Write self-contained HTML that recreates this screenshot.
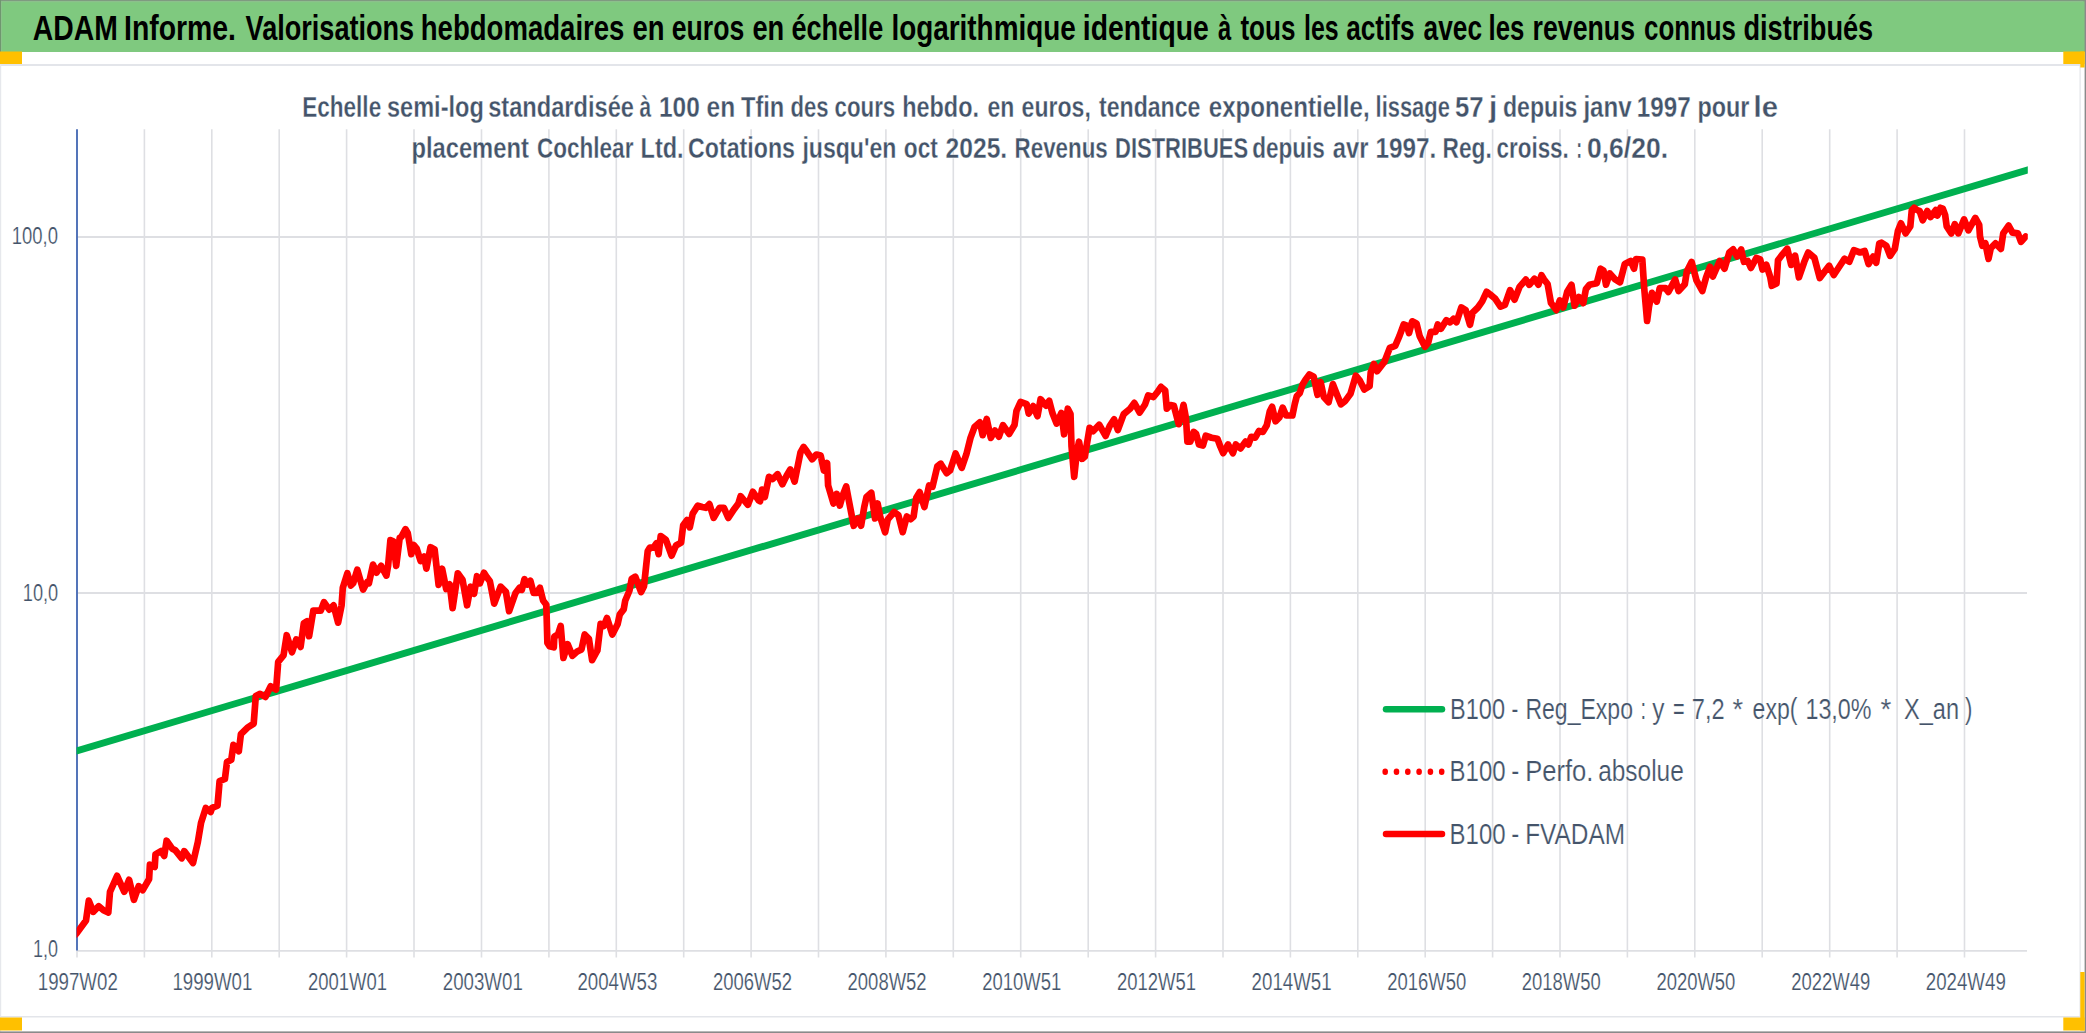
<!DOCTYPE html>
<html><head><meta charset="utf-8"><title>ADAM chart</title>
<style>html,body{margin:0;padding:0;background:#fff;width:2086px;height:1033px;overflow:hidden}</style>
</head><body>
<svg width="2086" height="1033" viewBox="0 0 2086 1033" style="display:block">
<rect x="0" y="0" width="2086" height="1033" fill="#ffffff"/>
<rect x="0" y="0" width="2086" height="52" fill="#7fc97f"/>
<rect x="0" y="0" width="2086" height="1.2" fill="#7f9a80"/>
<rect x="0" y="0" width="1.1" height="52" fill="#6f956f"/>
<rect x="1.1" y="1.2" width="1" height="50.5" fill="#8dc38d"/>
<rect x="1.2" y="1.2" width="2082" height="1" fill="#8fc08f"/>
<rect x="0" y="64" width="2080" height="2" fill="#e3e5ea"/>
<rect x="0" y="1016" width="2080" height="1.5" fill="#e3e5ea"/>
<rect x="2079.5" y="64" width="1.2" height="953" fill="#e3e5ea"/>
<rect x="0" y="52" width="1.2" height="980" fill="#e6e8ec"/>
<rect x="2084.6" y="0" width="1.4" height="1033" fill="#8a8a8a"/>
<rect x="0" y="1031.4" width="2086" height="1.6" fill="#8a8a8a"/>
<rect x="0" y="51.5" width="22" height="12.5" fill="#ffc000"/>
<rect x="2063.3" y="51.5" width="21.3" height="12.5" fill="#ffc000"/>
<rect x="2080.3" y="51.5" width="4.3" height="16" fill="#ffc000"/>
<rect x="0" y="1017.5" width="22" height="13" fill="#ffc000"/>
<rect x="2063.3" y="1017.5" width="21.3" height="13" fill="#ffc000"/>
<rect x="2080.3" y="972" width="4.3" height="58.5" fill="#ffc000"/>
<text x="32.8" y="40" font-family='"Liberation Sans", sans-serif' font-weight="bold" font-size="35" fill="#000" textLength="85.0" lengthAdjust="spacingAndGlyphs">ADAM</text>
<text x="124.0" y="40" font-family='"Liberation Sans", sans-serif' font-weight="bold" font-size="35" fill="#000" textLength="112.0" lengthAdjust="spacingAndGlyphs">Informe.</text>
<text x="245.6" y="40" font-family='"Liberation Sans", sans-serif' font-weight="bold" font-size="35" fill="#000" textLength="168.6" lengthAdjust="spacingAndGlyphs">Valorisations</text>
<text x="420.8" y="40" font-family='"Liberation Sans", sans-serif' font-weight="bold" font-size="35" fill="#000" textLength="203.6" lengthAdjust="spacingAndGlyphs">hebdomadaires</text>
<text x="632.6" y="40" font-family='"Liberation Sans", sans-serif' font-weight="bold" font-size="35" fill="#000" textLength="32.0" lengthAdjust="spacingAndGlyphs">en</text>
<text x="671.8" y="40" font-family='"Liberation Sans", sans-serif' font-weight="bold" font-size="35" fill="#000" textLength="72.4" lengthAdjust="spacingAndGlyphs">euros</text>
<text x="752.4" y="40" font-family='"Liberation Sans", sans-serif' font-weight="bold" font-size="35" fill="#000" textLength="31.8" lengthAdjust="spacingAndGlyphs">en</text>
<text x="791.4" y="40" font-family='"Liberation Sans", sans-serif' font-weight="bold" font-size="35" fill="#000" textLength="91.8" lengthAdjust="spacingAndGlyphs">échelle</text>
<text x="891.4" y="40" font-family='"Liberation Sans", sans-serif' font-weight="bold" font-size="35" fill="#000" textLength="184.4" lengthAdjust="spacingAndGlyphs">logarithmique</text>
<text x="1082.8" y="40" font-family='"Liberation Sans", sans-serif' font-weight="bold" font-size="35" fill="#000" textLength="126.0" lengthAdjust="spacingAndGlyphs">identique</text>
<text x="1218.0" y="40" font-family='"Liberation Sans", sans-serif' font-weight="bold" font-size="35" fill="#000" textLength="13.2" lengthAdjust="spacingAndGlyphs">à</text>
<text x="1240.4" y="40" font-family='"Liberation Sans", sans-serif' font-weight="bold" font-size="35" fill="#000" textLength="55.0" lengthAdjust="spacingAndGlyphs">tous</text>
<text x="1304.0" y="40" font-family='"Liberation Sans", sans-serif' font-weight="bold" font-size="35" fill="#000" textLength="34.6" lengthAdjust="spacingAndGlyphs">les</text>
<text x="1346.2" y="40" font-family='"Liberation Sans", sans-serif' font-weight="bold" font-size="35" fill="#000" textLength="68.4" lengthAdjust="spacingAndGlyphs">actifs</text>
<text x="1423.6" y="40" font-family='"Liberation Sans", sans-serif' font-weight="bold" font-size="35" fill="#000" textLength="58.4" lengthAdjust="spacingAndGlyphs">avec</text>
<text x="1488.6" y="40" font-family='"Liberation Sans", sans-serif' font-weight="bold" font-size="35" fill="#000" textLength="35.8" lengthAdjust="spacingAndGlyphs">les</text>
<text x="1532.6" y="40" font-family='"Liberation Sans", sans-serif' font-weight="bold" font-size="35" fill="#000" textLength="102.4" lengthAdjust="spacingAndGlyphs">revenus</text>
<text x="1644.0" y="40" font-family='"Liberation Sans", sans-serif' font-weight="bold" font-size="35" fill="#000" textLength="92.0" lengthAdjust="spacingAndGlyphs">connus</text>
<text x="1743.4" y="40" font-family='"Liberation Sans", sans-serif' font-weight="bold" font-size="35" fill="#000" textLength="129.8" lengthAdjust="spacingAndGlyphs">distribués</text>
<line x1="144.4" y1="129.3" x2="144.4" y2="957.5" stroke="#dedfe3" stroke-width="1.6"/>
<line x1="211.8" y1="129.3" x2="211.8" y2="957.5" stroke="#dedfe3" stroke-width="1.6"/>
<line x1="279.2" y1="129.3" x2="279.2" y2="957.5" stroke="#dedfe3" stroke-width="1.6"/>
<line x1="346.6" y1="129.3" x2="346.6" y2="957.5" stroke="#dedfe3" stroke-width="1.6"/>
<line x1="414.0" y1="129.3" x2="414.0" y2="957.5" stroke="#dedfe3" stroke-width="1.6"/>
<line x1="481.5" y1="129.3" x2="481.5" y2="957.5" stroke="#dedfe3" stroke-width="1.6"/>
<line x1="548.9" y1="129.3" x2="548.9" y2="957.5" stroke="#dedfe3" stroke-width="1.6"/>
<line x1="616.3" y1="129.3" x2="616.3" y2="957.5" stroke="#dedfe3" stroke-width="1.6"/>
<line x1="683.7" y1="129.3" x2="683.7" y2="957.5" stroke="#dedfe3" stroke-width="1.6"/>
<line x1="751.1" y1="129.3" x2="751.1" y2="957.5" stroke="#dedfe3" stroke-width="1.6"/>
<line x1="818.5" y1="129.3" x2="818.5" y2="957.5" stroke="#dedfe3" stroke-width="1.6"/>
<line x1="885.9" y1="129.3" x2="885.9" y2="957.5" stroke="#dedfe3" stroke-width="1.6"/>
<line x1="953.3" y1="129.3" x2="953.3" y2="957.5" stroke="#dedfe3" stroke-width="1.6"/>
<line x1="1020.7" y1="129.3" x2="1020.7" y2="957.5" stroke="#dedfe3" stroke-width="1.6"/>
<line x1="1088.2" y1="129.3" x2="1088.2" y2="957.5" stroke="#dedfe3" stroke-width="1.6"/>
<line x1="1155.6" y1="129.3" x2="1155.6" y2="957.5" stroke="#dedfe3" stroke-width="1.6"/>
<line x1="1223.0" y1="129.3" x2="1223.0" y2="957.5" stroke="#dedfe3" stroke-width="1.6"/>
<line x1="1290.4" y1="129.3" x2="1290.4" y2="957.5" stroke="#dedfe3" stroke-width="1.6"/>
<line x1="1357.8" y1="129.3" x2="1357.8" y2="957.5" stroke="#dedfe3" stroke-width="1.6"/>
<line x1="1425.2" y1="129.3" x2="1425.2" y2="957.5" stroke="#dedfe3" stroke-width="1.6"/>
<line x1="1492.6" y1="129.3" x2="1492.6" y2="957.5" stroke="#dedfe3" stroke-width="1.6"/>
<line x1="1560.0" y1="129.3" x2="1560.0" y2="957.5" stroke="#dedfe3" stroke-width="1.6"/>
<line x1="1627.4" y1="129.3" x2="1627.4" y2="957.5" stroke="#dedfe3" stroke-width="1.6"/>
<line x1="1694.8" y1="129.3" x2="1694.8" y2="957.5" stroke="#dedfe3" stroke-width="1.6"/>
<line x1="1762.2" y1="129.3" x2="1762.2" y2="957.5" stroke="#dedfe3" stroke-width="1.6"/>
<line x1="1829.7" y1="129.3" x2="1829.7" y2="957.5" stroke="#dedfe3" stroke-width="1.6"/>
<line x1="1897.1" y1="129.3" x2="1897.1" y2="957.5" stroke="#dedfe3" stroke-width="1.6"/>
<line x1="1964.5" y1="129.3" x2="1964.5" y2="957.5" stroke="#dedfe3" stroke-width="1.6"/>
<line x1="77" y1="237" x2="2027" y2="237" stroke="#dedfe3" stroke-width="1.8"/>
<line x1="77" y1="593" x2="2027" y2="593" stroke="#dedfe3" stroke-width="1.8"/>
<line x1="77" y1="950.8" x2="2027" y2="950.8" stroke="#dedfe3" stroke-width="1.8"/>
<line x1="77" y1="950" x2="77" y2="957.5" stroke="#dedfe3" stroke-width="1.6"/>
<line x1="77" y1="129.3" x2="77" y2="950.5" stroke="#4b6eb6" stroke-width="1.9"/>
<text x="302.2" y="116.9" font-family='"Liberation Sans", sans-serif' font-weight="bold" font-size="29.8" fill="#44546a" textLength="79.0" lengthAdjust="spacingAndGlyphs" stroke="#fff" stroke-width="0.3">Echelle</text>
<text x="387.0" y="116.9" font-family='"Liberation Sans", sans-serif' font-weight="bold" font-size="29.8" fill="#44546a" textLength="96.8" lengthAdjust="spacingAndGlyphs" stroke="#fff" stroke-width="0.3">semi-log</text>
<text x="488.2" y="116.9" font-family='"Liberation Sans", sans-serif' font-weight="bold" font-size="29.8" fill="#44546a" textLength="145.8" lengthAdjust="spacingAndGlyphs" stroke="#fff" stroke-width="0.3">standardisée</text>
<text x="639.4" y="116.9" font-family='"Liberation Sans", sans-serif' font-weight="bold" font-size="29.8" fill="#44546a" textLength="11.6" lengthAdjust="spacingAndGlyphs" stroke="#fff" stroke-width="0.3">à</text>
<text x="659.0" y="116.9" font-family='"Liberation Sans", sans-serif' font-weight="bold" font-size="29.8" fill="#44546a" textLength="40.8" lengthAdjust="spacingAndGlyphs" stroke="#fff" stroke-width="0.3">100</text>
<text x="706.6" y="116.9" font-family='"Liberation Sans", sans-serif' font-weight="bold" font-size="29.8" fill="#44546a" textLength="28.6" lengthAdjust="spacingAndGlyphs" stroke="#fff" stroke-width="0.3">en</text>
<text x="741.0" y="116.9" font-family='"Liberation Sans", sans-serif' font-weight="bold" font-size="29.8" fill="#44546a" textLength="43.2" lengthAdjust="spacingAndGlyphs" stroke="#fff" stroke-width="0.3">Tfin</text>
<text x="790.6" y="116.9" font-family='"Liberation Sans", sans-serif' font-weight="bold" font-size="29.8" fill="#44546a" textLength="38.0" lengthAdjust="spacingAndGlyphs" stroke="#fff" stroke-width="0.3">des</text>
<text x="834.6" y="116.9" font-family='"Liberation Sans", sans-serif' font-weight="bold" font-size="29.8" fill="#44546a" textLength="60.6" lengthAdjust="spacingAndGlyphs" stroke="#fff" stroke-width="0.3">cours</text>
<text x="902.2" y="116.9" font-family='"Liberation Sans", sans-serif' font-weight="bold" font-size="29.8" fill="#44546a" textLength="76.8" lengthAdjust="spacingAndGlyphs" stroke="#fff" stroke-width="0.3">hebdo.</text>
<text x="987.6" y="116.9" font-family='"Liberation Sans", sans-serif' font-weight="bold" font-size="29.8" fill="#44546a" textLength="26.8" lengthAdjust="spacingAndGlyphs" stroke="#fff" stroke-width="0.3">en</text>
<text x="1021.6" y="116.9" font-family='"Liberation Sans", sans-serif' font-weight="bold" font-size="29.8" fill="#44546a" textLength="69.2" lengthAdjust="spacingAndGlyphs" stroke="#fff" stroke-width="0.3">euros,</text>
<text x="1099.0" y="116.9" font-family='"Liberation Sans", sans-serif' font-weight="bold" font-size="29.8" fill="#44546a" textLength="101.4" lengthAdjust="spacingAndGlyphs" stroke="#fff" stroke-width="0.3">tendance</text>
<text x="1208.8" y="116.9" font-family='"Liberation Sans", sans-serif' font-weight="bold" font-size="29.8" fill="#44546a" textLength="160.8" lengthAdjust="spacingAndGlyphs" stroke="#fff" stroke-width="0.3">exponentielle,</text>
<text x="1375.6" y="116.9" font-family='"Liberation Sans", sans-serif' font-weight="bold" font-size="29.8" fill="#44546a" textLength="74.2" lengthAdjust="spacingAndGlyphs" stroke="#fff" stroke-width="0.3">lissage</text>
<text x="1455.0" y="116.9" font-family='"Liberation Sans", sans-serif' font-weight="bold" font-size="29.8" fill="#44546a" textLength="28.6" lengthAdjust="spacingAndGlyphs" stroke="#fff" stroke-width="0.3">57</text>
<text x="1489.0" y="116.9" font-family='"Liberation Sans", sans-serif' font-weight="bold" font-size="29.8" fill="#44546a" textLength="8.2" lengthAdjust="spacingAndGlyphs" stroke="#fff" stroke-width="0.3">j</text>
<text x="1503.0" y="116.9" font-family='"Liberation Sans", sans-serif' font-weight="bold" font-size="29.8" fill="#44546a" textLength="74.4" lengthAdjust="spacingAndGlyphs" stroke="#fff" stroke-width="0.3">depuis</text>
<text x="1583.4" y="116.9" font-family='"Liberation Sans", sans-serif' font-weight="bold" font-size="29.8" fill="#44546a" textLength="48.2" lengthAdjust="spacingAndGlyphs" stroke="#fff" stroke-width="0.3">janv</text>
<text x="1636.8" y="116.9" font-family='"Liberation Sans", sans-serif' font-weight="bold" font-size="29.8" fill="#44546a" textLength="53.8" lengthAdjust="spacingAndGlyphs" stroke="#fff" stroke-width="0.3">1997</text>
<text x="1697.4" y="116.9" font-family='"Liberation Sans", sans-serif' font-weight="bold" font-size="29.8" fill="#44546a" textLength="52.0" lengthAdjust="spacingAndGlyphs" stroke="#fff" stroke-width="0.3">pour</text>
<text x="1753.6" y="116.9" font-family='"Liberation Sans", sans-serif' font-weight="bold" font-size="29.8" fill="#44546a" textLength="24.4" lengthAdjust="spacingAndGlyphs" stroke="#fff" stroke-width="0.3">le</text>
<text x="411.4" y="158.1" font-family='"Liberation Sans", sans-serif' font-weight="bold" font-size="29.8" fill="#44546a" textLength="117.4" lengthAdjust="spacingAndGlyphs" stroke="#fff" stroke-width="0.3">placement</text>
<text x="537.0" y="158.1" font-family='"Liberation Sans", sans-serif' font-weight="bold" font-size="29.8" fill="#44546a" textLength="96.4" lengthAdjust="spacingAndGlyphs" stroke="#fff" stroke-width="0.3">Cochlear</text>
<text x="640.6" y="158.1" font-family='"Liberation Sans", sans-serif' font-weight="bold" font-size="29.8" fill="#44546a" textLength="43.0" lengthAdjust="spacingAndGlyphs" stroke="#fff" stroke-width="0.3">Ltd.</text>
<text x="688.0" y="158.1" font-family='"Liberation Sans", sans-serif' font-weight="bold" font-size="29.8" fill="#44546a" textLength="107.0" lengthAdjust="spacingAndGlyphs" stroke="#fff" stroke-width="0.3">Cotations</text>
<text x="802.4" y="158.1" font-family='"Liberation Sans", sans-serif' font-weight="bold" font-size="29.8" fill="#44546a" textLength="94.0" lengthAdjust="spacingAndGlyphs" stroke="#fff" stroke-width="0.3">jusqu'en</text>
<text x="903.8" y="158.1" font-family='"Liberation Sans", sans-serif' font-weight="bold" font-size="29.8" fill="#44546a" textLength="34.0" lengthAdjust="spacingAndGlyphs" stroke="#fff" stroke-width="0.3">oct</text>
<text x="945.6" y="158.1" font-family='"Liberation Sans", sans-serif' font-weight="bold" font-size="29.8" fill="#44546a" textLength="61.6" lengthAdjust="spacingAndGlyphs" stroke="#fff" stroke-width="0.3">2025.</text>
<text x="1014.6" y="158.1" font-family='"Liberation Sans", sans-serif' font-weight="bold" font-size="29.8" fill="#44546a" textLength="93.2" lengthAdjust="spacingAndGlyphs" stroke="#fff" stroke-width="0.3">Revenus</text>
<text x="1115.0" y="158.1" font-family='"Liberation Sans", sans-serif' font-weight="bold" font-size="29.8" fill="#44546a" textLength="133.2" lengthAdjust="spacingAndGlyphs" stroke="#fff" stroke-width="0.3">DISTRIBUES</text>
<text x="1252.2" y="158.1" font-family='"Liberation Sans", sans-serif' font-weight="bold" font-size="29.8" fill="#44546a" textLength="72.6" lengthAdjust="spacingAndGlyphs" stroke="#fff" stroke-width="0.3">depuis</text>
<text x="1332.8" y="158.1" font-family='"Liberation Sans", sans-serif' font-weight="bold" font-size="29.8" fill="#44546a" textLength="35.6" lengthAdjust="spacingAndGlyphs" stroke="#fff" stroke-width="0.3">avr</text>
<text x="1375.4" y="158.1" font-family='"Liberation Sans", sans-serif' font-weight="bold" font-size="29.8" fill="#44546a" textLength="60.8" lengthAdjust="spacingAndGlyphs" stroke="#fff" stroke-width="0.3">1997.</text>
<text x="1442.6" y="158.1" font-family='"Liberation Sans", sans-serif' font-weight="bold" font-size="29.8" fill="#44546a" textLength="49.2" lengthAdjust="spacingAndGlyphs" stroke="#fff" stroke-width="0.3">Reg.</text>
<text x="1496.6" y="158.1" font-family='"Liberation Sans", sans-serif' font-weight="bold" font-size="29.8" fill="#44546a" textLength="72.2" lengthAdjust="spacingAndGlyphs" stroke="#fff" stroke-width="0.3">croiss.</text>
<text x="1576.6" y="158.1" font-family='"Liberation Sans", sans-serif' font-weight="bold" font-size="29.8" fill="#44546a" textLength="5.4" lengthAdjust="spacingAndGlyphs" stroke="#fff" stroke-width="0.3">:</text>
<text x="1587.0" y="158.1" font-family='"Liberation Sans", sans-serif' font-weight="bold" font-size="29.8" fill="#44546a" textLength="81.0" lengthAdjust="spacingAndGlyphs" stroke="#fff" stroke-width="0.3">0,6/20.</text>
<text x="11.8" y="244.0" font-family='"Liberation Sans", sans-serif' font-weight="normal" font-size="23" fill="#44546a" textLength="46.2" lengthAdjust="spacingAndGlyphs" stroke="#fff" stroke-width="0.2">100,0</text>
<text x="22.8" y="600.6" font-family='"Liberation Sans", sans-serif' font-weight="normal" font-size="23" fill="#44546a" textLength="35.4" lengthAdjust="spacingAndGlyphs" stroke="#fff" stroke-width="0.2">10,0</text>
<text x="33.0" y="957.3" font-family='"Liberation Sans", sans-serif' font-weight="normal" font-size="23" fill="#44546a" textLength="25.0" lengthAdjust="spacingAndGlyphs" stroke="#fff" stroke-width="0.2">1,0</text>
<text x="37.8" y="990" font-family='"Liberation Sans", sans-serif' font-weight="normal" font-size="23" fill="#44546a" textLength="80.0" lengthAdjust="spacingAndGlyphs" stroke="#fff" stroke-width="0.2">1997W02</text>
<text x="172.4" y="990" font-family='"Liberation Sans", sans-serif' font-weight="normal" font-size="23" fill="#44546a" textLength="80.0" lengthAdjust="spacingAndGlyphs" stroke="#fff" stroke-width="0.2">1999W01</text>
<text x="308.0" y="990" font-family='"Liberation Sans", sans-serif' font-weight="normal" font-size="23" fill="#44546a" textLength="79.0" lengthAdjust="spacingAndGlyphs" stroke="#fff" stroke-width="0.2">2001W01</text>
<text x="442.8" y="990" font-family='"Liberation Sans", sans-serif' font-weight="normal" font-size="23" fill="#44546a" textLength="80.0" lengthAdjust="spacingAndGlyphs" stroke="#fff" stroke-width="0.2">2003W01</text>
<text x="577.4" y="990" font-family='"Liberation Sans", sans-serif' font-weight="normal" font-size="23" fill="#44546a" textLength="80.0" lengthAdjust="spacingAndGlyphs" stroke="#fff" stroke-width="0.2">2004W53</text>
<text x="713.0" y="990" font-family='"Liberation Sans", sans-serif' font-weight="normal" font-size="23" fill="#44546a" textLength="79.0" lengthAdjust="spacingAndGlyphs" stroke="#fff" stroke-width="0.2">2006W52</text>
<text x="847.6" y="990" font-family='"Liberation Sans", sans-serif' font-weight="normal" font-size="23" fill="#44546a" textLength="79.0" lengthAdjust="spacingAndGlyphs" stroke="#fff" stroke-width="0.2">2008W52</text>
<text x="982.2" y="990" font-family='"Liberation Sans", sans-serif' font-weight="normal" font-size="23" fill="#44546a" textLength="79.0" lengthAdjust="spacingAndGlyphs" stroke="#fff" stroke-width="0.2">2010W51</text>
<text x="1117.0" y="990" font-family='"Liberation Sans", sans-serif' font-weight="normal" font-size="23" fill="#44546a" textLength="79.0" lengthAdjust="spacingAndGlyphs" stroke="#fff" stroke-width="0.2">2012W51</text>
<text x="1251.6" y="990" font-family='"Liberation Sans", sans-serif' font-weight="normal" font-size="23" fill="#44546a" textLength="80.0" lengthAdjust="spacingAndGlyphs" stroke="#fff" stroke-width="0.2">2014W51</text>
<text x="1387.2" y="990" font-family='"Liberation Sans", sans-serif' font-weight="normal" font-size="23" fill="#44546a" textLength="79.0" lengthAdjust="spacingAndGlyphs" stroke="#fff" stroke-width="0.2">2016W50</text>
<text x="1521.8" y="990" font-family='"Liberation Sans", sans-serif' font-weight="normal" font-size="23" fill="#44546a" textLength="79.0" lengthAdjust="spacingAndGlyphs" stroke="#fff" stroke-width="0.2">2018W50</text>
<text x="1656.4" y="990" font-family='"Liberation Sans", sans-serif' font-weight="normal" font-size="23" fill="#44546a" textLength="79.0" lengthAdjust="spacingAndGlyphs" stroke="#fff" stroke-width="0.2">2020W50</text>
<text x="1791.2" y="990" font-family='"Liberation Sans", sans-serif' font-weight="normal" font-size="23" fill="#44546a" textLength="79.0" lengthAdjust="spacingAndGlyphs" stroke="#fff" stroke-width="0.2">2022W49</text>
<text x="1925.8" y="990" font-family='"Liberation Sans", sans-serif' font-weight="normal" font-size="23" fill="#44546a" textLength="80.0" lengthAdjust="spacingAndGlyphs" stroke="#fff" stroke-width="0.2">2024W49</text>
<defs><clipPath id="pa"><rect x="76.6" y="100" width="1951.2" height="860"/></clipPath></defs>
<line clip-path="url(#pa)" x1="70" y1="752.9" x2="2035" y2="167.7" stroke="#00b050" stroke-width="6.9" stroke-linecap="butt"/>
<polyline clip-path="url(#pa)" points="75.5,934.6 77.2,932.6 86.0,920.6 88.8,900.6 93.2,911.8 98.8,906.2 103.5,910.2 108.3,912.6 110.0,891.8 117.1,875.8 124.3,891.8 129.1,879.8 133.9,899.8 138.7,886.2 142.7,890.2 149.1,879.0 149.9,864.7 154.7,867.0 155.5,854.3 161.0,851.0 164.2,855.9 166.6,840.7 172.2,848.7 175.4,850.3 181.8,858.3 184.2,851.1 193.0,863.0 197.8,842.3 201.0,823.1 205.8,808.0 210.6,812.0 212.1,807.8 217.5,805.6 219.6,781.1 224.9,779.0 227.0,762.0 231.3,759.8 233.4,744.9 238.8,751.3 240.9,734.2 247.3,727.8 253.7,723.6 255.8,695.9 260.1,693.8 265.4,697.0 270.7,686.3 276.1,689.5 278.2,661.8 283.5,655.4 286.7,635.2 292.0,652.2 296.3,639.4 300.6,646.9 303.8,623.4 307.0,621.3 309.1,636.2 313.3,610.7 320.8,610.7 324.0,602.1 329.3,609.6 333.6,605.3 338.1,622.7 341.6,605.3 342.8,587.8 347.4,573.3 350.9,585.5 353.2,583.2 357.3,569.8 363.1,589.6 367.2,582.0 368.9,583.2 373.0,564.6 376.5,572.7 381.1,565.8 386.4,575.6 388.1,565.8 390.4,540.2 393.3,541.4 396.2,565.8 399.7,537.9 401.5,536.7 405.5,529.2 407.8,533.2 411.3,554.2 413.7,544.9 416.6,548.3 420.6,561.1 424.1,556.5 426.4,568.7 430.5,547.2 434.6,549.5 438.6,584.9 442.1,568.7 446.2,589.0 449.7,584.4 452.6,608.2 457.8,573.3 462.5,579.7 467.1,605.3 470.6,586.7 474.1,593.7 477.0,576.2 479.8,583.4 484.0,572.8 486.7,577.0 489.9,581.3 494.2,603.6 500.6,586.6 505.9,591.9 509.1,611.1 515.5,593.0 519.7,587.7 521.8,589.8 524.5,579.2 527.2,584.5 530.4,580.8 533.6,593.0 536.7,593.0 539.9,587.7 543.1,600.5 546.3,604.7 547.4,643.0 549.5,646.2 553.8,647.3 554.3,636.7 558.0,634.5 560.7,626.0 563.4,657.9 567.6,644.1 572.4,655.8 577.2,651.6 581.5,649.4 584.7,634.5 588.9,638.8 592.1,660.1 597.4,650.5 600.6,623.9 603.8,626.0 607.0,618.0 612.3,634.5 617.7,623.9 619.8,614.3 623.7,609.4 625.2,600.7 629.5,590.5 631.7,578.9 635.3,576.7 641.1,592.0 644.0,586.2 647.7,551.3 649.8,547.7 653.5,547.7 656.4,543.3 658.6,554.2 660.7,536.1 665.8,539.7 671.6,555.7 676.0,545.5 681.1,542.6 683.2,525.2 686.9,520.1 689.8,527.4 692.7,513.6 697.8,505.6 702.1,507.0 705.8,507.8 709.4,504.1 713.7,517.9 719.5,507.8 723.9,507.8 728.3,517.9 734.1,509.2 738.4,503.4 740.6,496.1 747.9,504.8 752.9,491.8 758.8,500.5 760.0,501.3 762.1,489.6 764.8,497.1 769.0,476.8 772.8,479.0 777.6,474.2 782.4,484.3 786.6,475.8 790.3,469.4 794.6,481.6 800.5,452.4 803.6,447.0 806.8,451.3 812.2,459.3 816.4,454.5 820.7,455.6 823.9,470.5 827.1,463.0 828.1,485.4 833.5,503.5 836.7,493.9 839.8,505.6 842.5,496.0 846.2,486.4 848.4,498.1 853.7,525.8 857.9,518.4 861.1,525.8 864.3,506.7 866.5,497.1 871.3,492.8 875.0,518.4 877.6,503.5 880.3,517.3 885.1,532.2 887.8,519.4 894.1,512.0 898.4,515.2 902.7,532.2 906.8,516.5 910.8,519.2 913.6,516.5 916.3,497.6 919.6,492.1 924.4,507.0 929.1,485.4 932.5,486.7 937.3,466.4 940.7,463.7 946.7,473.2 950.1,470.5 955.6,453.5 961.7,467.8 966.4,454.2 970.5,437.9 974.5,427.1 979.9,422.4 982.7,435.2 986.7,419.0 990.8,437.9 994.9,430.5 998.9,436.6 1003.0,425.1 1009.1,433.9 1014.5,425.1 1016.5,410.8 1020.6,402.0 1026.7,404.1 1028.7,413.6 1033.2,406.1 1037.5,416.2 1040.6,399.2 1046.0,405.6 1049.2,400.8 1052.4,413.0 1056.6,423.6 1061.4,413.0 1064.1,434.3 1067.8,408.7 1070.5,414.1 1071.5,446.0 1074.2,476.9 1076.8,452.4 1079.0,441.7 1082.2,458.8 1084.8,456.7 1089.6,427.9 1093.3,431.1 1099.2,424.7 1105.6,435.9 1109.8,425.8 1114.1,419.4 1117.8,430.0 1123.7,414.1 1130.1,408.7 1134.3,402.9 1139.7,412.5 1145.0,404.5 1148.2,395.4 1153.5,397.0 1157.8,391.7 1161.0,386.9 1165.2,390.6 1166.8,408.7 1170.5,405.0 1173.9,405.8 1178.7,424.2 1181.6,414.5 1183.5,404.8 1186.0,418.4 1187.4,441.6 1190.3,441.6 1193.7,431.9 1196.1,433.9 1199.0,444.5 1202.9,445.5 1205.8,435.8 1211.6,437.7 1217.4,438.7 1220.3,446.5 1223.2,453.2 1228.1,444.5 1232.9,453.2 1235.8,444.5 1240.6,448.4 1245.5,441.6 1248.4,444.5 1251.3,436.8 1255.2,437.7 1259.0,431.0 1262.9,431.9 1266.8,425.2 1269.7,411.6 1272.1,406.8 1275.5,421.3 1279.4,417.4 1282.7,407.7 1286.1,415.5 1292.4,415.5 1294.8,403.9 1296.8,396.1 1299.7,393.2 1302.6,384.5 1305.5,379.7 1309.4,374.4 1313.7,376.7 1317.5,394.8 1320.6,382.0 1323.8,396.9 1328.6,402.2 1332.9,384.1 1336.6,393.7 1340.9,404.3 1345.1,401.1 1350.5,393.7 1355.8,375.6 1360.0,380.9 1364.3,389.4 1369.6,386.2 1370.7,372.4 1373.9,363.9 1377.1,371.3 1384.5,361.7 1389.8,347.9 1395.2,345.8 1399.4,336.2 1403.7,324.5 1406.9,325.6 1409.0,333.0 1412.2,321.3 1416.5,323.4 1419.7,336.2 1425.0,346.8 1428.2,342.6 1430.8,331.9 1435.6,331.9 1437.8,324.5 1441.0,328.7 1446.3,320.2 1450.0,322.3 1453.5,318.8 1456.5,322.3 1461.3,307.5 1465.7,310.1 1470.0,324.9 1472.6,312.7 1477.9,307.5 1482.2,301.4 1486.6,291.8 1490.1,294.4 1495.3,298.8 1500.5,306.6 1504.9,304.9 1510.1,290.1 1514.5,299.7 1519.7,286.6 1525.8,279.6 1529.3,284.8 1534.5,278.7 1538.4,284.8 1541.5,275.3 1544.1,279.6 1547.6,284.0 1551.0,303.1 1556.3,310.1 1559.8,300.5 1563.2,307.5 1567.2,291.8 1571.5,284.8 1574.6,305.7 1578.9,297.0 1583.3,303.1 1585.9,289.2 1589.4,284.8 1596.8,283.2 1600.6,268.7 1603.5,270.6 1606.0,284.7 1609.8,273.5 1615.2,279.4 1620.0,282.3 1624.8,263.9 1630.6,261.0 1634.0,268.7 1636.0,259.0 1642.3,259.5 1644.2,288.1 1647.1,321.0 1649.0,306.5 1651.9,292.9 1656.8,301.6 1659.7,288.1 1665.5,288.1 1668.4,291.9 1675.2,279.4 1678.6,291.0 1684.8,284.2 1686.8,271.6 1691.6,261.9 1696.5,280.3 1702.3,291.0 1706.1,277.4 1710.0,266.8 1712.9,276.5 1719.7,261.0 1724.5,268.7 1729.4,252.3 1733.1,249.4 1737.0,256.4 1741.2,249.4 1743.9,261.8 1747.8,261.0 1750.9,268.0 1756.3,258.0 1760.2,259.5 1762.5,269.6 1766.4,264.9 1770.3,277.3 1771.8,285.8 1776.5,283.5 1778.0,260.3 1782.7,254.1 1787.3,248.7 1791.2,264.9 1795.1,255.6 1798.9,277.3 1804.3,261.8 1808.2,252.5 1814.4,257.9 1819.8,278.1 1829.1,265.7 1833.8,275.0 1838.4,268.0 1844.6,258.7 1849.3,261.8 1853.9,250.2 1860.1,252.5 1864.7,251.0 1868.6,264.1 1873.1,256.6 1876.2,262.8 1879.3,243.4 1881.6,242.7 1886.3,245.8 1890.1,255.8 1894.8,248.9 1897.9,231.0 1901.0,223.3 1905.6,233.4 1910.3,226.4 1911.8,210.1 1914.1,207.8 1917.2,210.1 1919.6,210.9 1922.7,220.2 1927.3,210.9 1930.4,217.1 1935.8,210.1 1937.4,215.6 1940.5,207.8 1942.8,208.6 1945.1,214.8 1946.7,226.4 1951.3,233.4 1954.8,224.1 1958.3,233.4 1964.1,219.4 1968.4,230.3 1975.3,217.9 1979.2,224.9 1980.0,236.5 1982.3,245.8 1985.4,243.4 1988.5,258.9 1990.8,248.1 1995.5,243.4 2000.9,248.9 2003.2,233.4 2008.6,225.6 2012.5,232.6 2017.9,233.4 2021.0,241.9 2025.7,236.5" fill="none" stroke="#ff0000" stroke-width="6.7" stroke-linejoin="round" stroke-linecap="round"/>
<line x1="1386" y1="709.2" x2="1442" y2="709.2" stroke="#00b050" stroke-width="6.5" stroke-linecap="round"/>
<ellipse cx="1385.2" cy="771.8" rx="2.8" ry="3.2" fill="#ff0000"/>
<ellipse cx="1396.5" cy="771.8" rx="2.8" ry="3.2" fill="#ff0000"/>
<ellipse cx="1407.8" cy="771.8" rx="2.8" ry="3.2" fill="#ff0000"/>
<ellipse cx="1419.1" cy="771.8" rx="2.8" ry="3.2" fill="#ff0000"/>
<ellipse cx="1430.4" cy="771.8" rx="2.8" ry="3.2" fill="#ff0000"/>
<ellipse cx="1441.7" cy="771.8" rx="2.8" ry="3.2" fill="#ff0000"/>
<line x1="1386" y1="834" x2="1442" y2="834" stroke="#ff0000" stroke-width="6.5" stroke-linecap="round"/>
<text x="1450.0" y="718.9" font-family='"Liberation Sans", sans-serif' font-weight="normal" font-size="29.8" fill="#44546a" textLength="55.0" lengthAdjust="spacingAndGlyphs" stroke="#fff" stroke-width="0.2">B100</text>
<text x="1511.6" y="718.9" font-family='"Liberation Sans", sans-serif' font-weight="normal" font-size="29.8" fill="#44546a" textLength="6.8" lengthAdjust="spacingAndGlyphs" stroke="#fff" stroke-width="0.2">-</text>
<text x="1525.4" y="718.9" font-family='"Liberation Sans", sans-serif' font-weight="normal" font-size="29.8" fill="#44546a" textLength="107.6" lengthAdjust="spacingAndGlyphs" stroke="#fff" stroke-width="0.2">Reg_Expo</text>
<text x="1640.4" y="718.9" font-family='"Liberation Sans", sans-serif' font-weight="normal" font-size="29.8" fill="#44546a" textLength="5.6" lengthAdjust="spacingAndGlyphs" stroke="#fff" stroke-width="0.2">:</text>
<text x="1652.2" y="718.9" font-family='"Liberation Sans", sans-serif' font-weight="normal" font-size="29.8" fill="#44546a" textLength="12.2" lengthAdjust="spacingAndGlyphs" stroke="#fff" stroke-width="0.2">y</text>
<text x="1673.0" y="718.9" font-family='"Liberation Sans", sans-serif' font-weight="normal" font-size="29.8" fill="#44546a" textLength="11.6" lengthAdjust="spacingAndGlyphs" stroke="#fff" stroke-width="0.2">=</text>
<text x="1691.8" y="718.9" font-family='"Liberation Sans", sans-serif' font-weight="normal" font-size="29.8" fill="#44546a" textLength="32.8" lengthAdjust="spacingAndGlyphs" stroke="#fff" stroke-width="0.2">7,2</text>
<text x="1732.4" y="718.9" font-family='"Liberation Sans", sans-serif' font-weight="normal" font-size="29.8" fill="#44546a" textLength="10.6" lengthAdjust="spacingAndGlyphs" stroke="#fff" stroke-width="0.2">*</text>
<text x="1752.6" y="718.9" font-family='"Liberation Sans", sans-serif' font-weight="normal" font-size="29.8" fill="#44546a" textLength="44.8" lengthAdjust="spacingAndGlyphs" stroke="#fff" stroke-width="0.2">exp(</text>
<text x="1805.4" y="718.9" font-family='"Liberation Sans", sans-serif' font-weight="normal" font-size="29.8" fill="#44546a" textLength="66.2" lengthAdjust="spacingAndGlyphs" stroke="#fff" stroke-width="0.2">13,0%</text>
<text x="1880.6" y="718.9" font-family='"Liberation Sans", sans-serif' font-weight="normal" font-size="29.8" fill="#44546a" textLength="10.8" lengthAdjust="spacingAndGlyphs" stroke="#fff" stroke-width="0.2">*</text>
<text x="1904.0" y="718.9" font-family='"Liberation Sans", sans-serif' font-weight="normal" font-size="29.8" fill="#44546a" textLength="55.0" lengthAdjust="spacingAndGlyphs" stroke="#fff" stroke-width="0.2">X_an</text>
<text x="1965.0" y="718.9" font-family='"Liberation Sans", sans-serif' font-weight="normal" font-size="29.8" fill="#44546a" textLength="7.4" lengthAdjust="spacingAndGlyphs" stroke="#fff" stroke-width="0.2">)</text>
<text x="1449.6" y="780.5" font-family='"Liberation Sans", sans-serif' font-weight="normal" font-size="29.8" fill="#44546a" textLength="56.0" lengthAdjust="spacingAndGlyphs" stroke="#fff" stroke-width="0.2">B100</text>
<text x="1511.2" y="780.5" font-family='"Liberation Sans", sans-serif' font-weight="normal" font-size="29.8" fill="#44546a" textLength="8.0" lengthAdjust="spacingAndGlyphs" stroke="#fff" stroke-width="0.2">-</text>
<text x="1525.2" y="780.5" font-family='"Liberation Sans", sans-serif' font-weight="normal" font-size="29.8" fill="#44546a" textLength="68.2" lengthAdjust="spacingAndGlyphs" stroke="#fff" stroke-width="0.2">Perfo.</text>
<text x="1598.2" y="780.5" font-family='"Liberation Sans", sans-serif' font-weight="normal" font-size="29.8" fill="#44546a" textLength="85.6" lengthAdjust="spacingAndGlyphs" stroke="#fff" stroke-width="0.2">absolue</text>
<text x="1449.6" y="843.8" font-family='"Liberation Sans", sans-serif' font-weight="normal" font-size="29.8" fill="#44546a" textLength="56.0" lengthAdjust="spacingAndGlyphs" stroke="#fff" stroke-width="0.2">B100</text>
<text x="1511.2" y="843.8" font-family='"Liberation Sans", sans-serif' font-weight="normal" font-size="29.8" fill="#44546a" textLength="8.0" lengthAdjust="spacingAndGlyphs" stroke="#fff" stroke-width="0.2">-</text>
<text x="1525.2" y="843.8" font-family='"Liberation Sans", sans-serif' font-weight="normal" font-size="29.8" fill="#44546a" textLength="99.8" lengthAdjust="spacingAndGlyphs" stroke="#fff" stroke-width="0.2">FVADAM</text>
</svg>
</body></html>
